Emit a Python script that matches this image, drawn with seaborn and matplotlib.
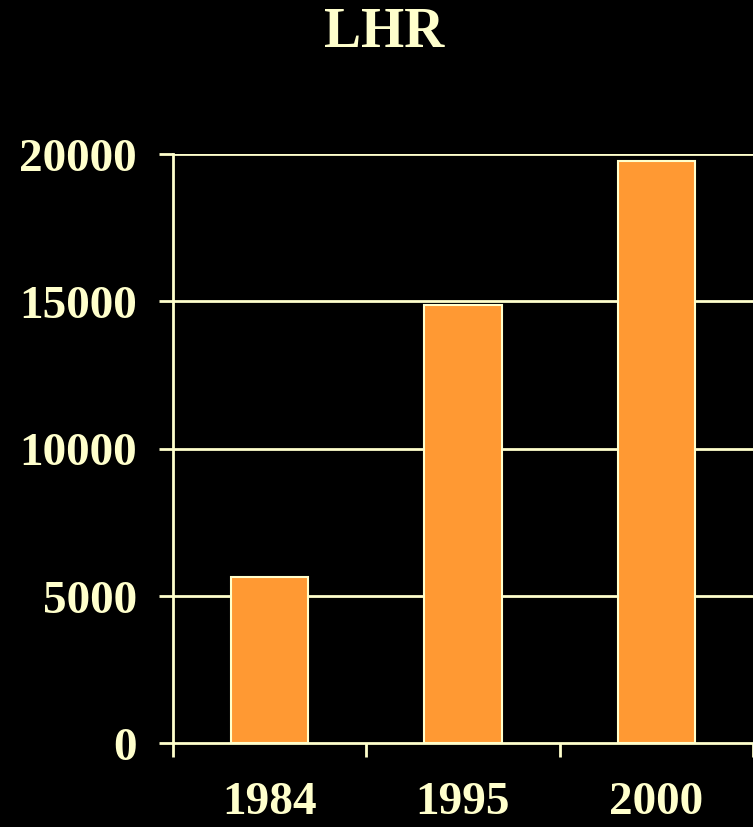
import matplotlib
matplotlib.use("Agg")
import matplotlib.pyplot as plt
import seaborn as sns
import pandas as pd
from matplotlib.ticker import FixedLocator

years = ["1984", "1995", "2000"]
values = [5650, 14870, 19760]
yticks = [0, 5000, 10000, 15000, 20000]
title = "LHR"

CREAM = "#FFFFCC"
BAR = "#FF9933"
BG = "#000000"

sns.set_theme(style="dark")
plt.rcParams["font.family"] = ["Liberation Serif", "DejaVu Serif"]
plt.rcParams["font.weight"] = "bold"

fig = plt.figure(figsize=(7.53, 8.28), dpi=100, facecolor=BG)
ax = fig.add_axes([173/753, 1-744/828, 1-173/753, (744-155)/828])
ax.set_facecolor(BG)

df = pd.DataFrame({"year": years, "value": values})
sns.barplot(data=df, x="year", y="value", ax=ax, color=BAR, width=0.4,
            edgecolor=CREAM, linewidth=1.5, saturation=1, zorder=3)

ax.set_xlim(-0.5, 2.5)
ax.set_ylim(0, 20000)
ax.set_yticks(yticks)
ax.set_yticklabels([str(v) for v in yticks])
ax.set_xlabel("")
ax.set_ylabel("")

ax.grid(False)
for v in yticks[1:]:
    ax.axhline(v, color=CREAM, lw=2, zorder=1)

for s in ["top", "right"]:
    ax.spines[s].set_visible(False)
for s in ["left", "bottom"]:
    ax.spines[s].set_visible(True)
    ax.spines[s].set_color(CREAM)
    ax.spines[s].set_linewidth(2)
    ax.spines[s].set_zorder(4)

ax.xaxis.set_minor_locator(FixedLocator([-0.5, 0.5, 1.5, 2.5]))
ax.tick_params(axis="x", which="major", length=0, pad=38*0.72,
               labelsize=34, labelcolor=CREAM)
ax.tick_params(axis="x", which="minor", length=10, width=2, color=CREAM,
               direction="out", bottom=True)
ax.tick_params(axis="y", which="major", length=10, width=2, color=CREAM,
               direction="out", left=True, pad=16, labelsize=34, labelcolor=CREAM)
for lab in ax.get_xticklabels() + ax.get_yticklabels():
    lab.set_fontweight("bold")

fig.text(384/753, 1-33/828, title, ha="center", va="center", fontsize=40,
         fontweight="bold", color=CREAM)

fig.savefig("out.png", dpi=100, facecolor=BG)
